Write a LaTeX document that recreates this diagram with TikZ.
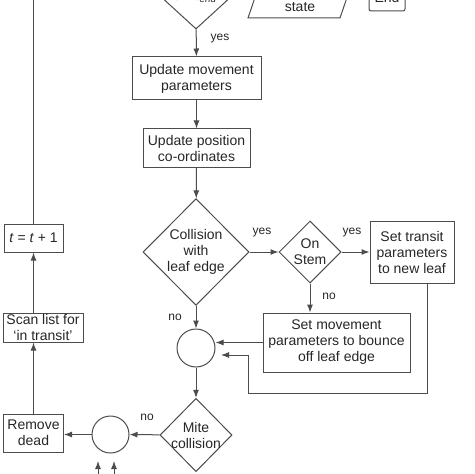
\documentclass[tikz,border=0pt]{standalone}
\usepackage{fontspec}
\setmainfont{Liberation Sans}
\usetikzlibrary{shapes.geometric, arrows.meta, positioning}

\begin{document}
\begin{tikzpicture}[x=0.75pt, y=-0.75pt,
    every node/.style={font=\fontsize{10.5}{12}\selectfont, text=black!85},
    flowline/.style={draw=black!70, line width=0.75pt},
    arr/.style={flowline, -{Latex[length=6pt,width=4.5pt]}},
    box/.style={draw=black!70, line width=0.75pt, align=center, inner sep=0pt},
    decide/.style={diamond, draw=black!70, line width=0.75pt, inner sep=0pt},
    junc/.style={circle, draw=black!70, line width=0.75pt, inner sep=0pt},
    lbl/.style={font=\fontsize{9}{10}\selectfont, inner sep=0pt}]
                % Fix the frame of the picture
                \useasboundingbox (0,0) rectangle (474,474);
                \clip (0,0) rectangle (474,474);

                % Top of the time loop (cut off by the frame)
                \node[decide, minimum width=52.5pt, minimum height=48pt,
                      label={[align=center]center:\textit{t} < \textit{t}\textsubscript{\textit{end}}}] (tcheck) at (196,-3) {};
                \draw[flowline] (248,18) -- (340,18) -- (355,-26) -- (263,-26) -- cycle; % Output box
                \node (outtxt) at (300,7) {state};
                \coordinate (outin) at (255.5,-3);
                \coordinate (outout) at (347.5,-3);
                \node[box, minimum width=27pt, minimum height=21pt, rounded corners=1.5pt] (stop) at (387,-3) {End};

                % Main column
                \node[box, minimum width=96.75pt, minimum height=32.25pt] (upmove) at (196.5,78.5) {Update movement\\parameters};
                \node[box, minimum width=80.25pt, minimum height=28.5pt] (uppos) at (196.5,148) {Update position\\co-ordinates};
                \node[decide, minimum width=79.5pt, minimum height=80pt,
                      label={[align=center]center:Collision\\with\\leaf edge}] (leafhit) at (196,252) {};
                \node[junc, minimum size=28.5pt] (merge1) at (196,348) {};
                \node[decide, minimum width=54pt, minimum height=55pt,
                      label={[align=center]center:Mite\\collision}] (mite) at (196,435) {};

                % Right branch
                \node[decide, minimum size=46.5pt,
                      label={[align=center]center:On\\Stem}] (onstem) at (310,252) {};
                \node[box, minimum width=63pt, minimum height=46.5pt] (transit) at (412,252) {Set transit\\parameters\\to new leaf};
                \node[box, minimum width=110.25pt, minimum height=44.25pt] (bounce) at (336.5,342.5) {Set movement\\parameters to bounce\\off leaf edge};

                % Left column
                \node[junc, minimum size=27.75pt] (merge2) at (110.5,434.5) {};
                \node[box, minimum width=45pt, minimum height=28.5pt] (remove) at (33.5,433) {Remove\\dead};
                \node[box, minimum width=60pt, minimum height=21.75pt] (scan) at (43,327.5) {Scan list for\\`in transit'};
                \node[box, minimum width=44.25pt, minimum height=21pt] (tstep) at (33.5,238) {\textit{t} = \textit{t} + 1};

                % Free ends
                \coordinate (loopin) at (33.5,-40);
                \coordinate (loopback) at (248,393);
                \coordinate (loopend) at (221,355);
                \coordinate (in1) at (98,461);
                \coordinate (in1b) at (98,490);
                \coordinate (in2) at (114,461);
                \coordinate (in2b) at (114,490);

                % Connectors
                \draw[arr] (tcheck.east) -- (outin);
                \draw[arr] (outout) -- (stop);
                \draw[arr] (tcheck) -- (upmove);
                \draw[arr] (upmove) -- (uppos);
                \draw[arr] (uppos) -- (leafhit);
                \draw[arr] (leafhit) -- (merge1);
                \draw[arr] (merge1) -- (mite);
                \draw[arr] (leafhit) -- (onstem);
                \draw[arr] (onstem) -- (transit);
                \draw[arr] (onstem.south) -- (onstem.south |- bounce.north);
                \draw[arr] (bounce.west) -- (bounce.west -| merge1.east);
                \draw[arr] ([xshift=11.25pt]transit.south) |- (loopback) |- (loopend);
                \draw[arr] (mite) -- (merge2);
                \draw[arr] (merge2.west) -- (merge2.west -| remove.east);
                \draw[arr] (in1b) -- (in1);
                \draw[arr] (in2b) -- (in2);
                \draw[arr] (remove.north) -- (remove.north |- scan.south);
                \draw[arr] (scan.north -| tstep) -- (tstep.south);
                \draw[flowline] (tstep.north) -- (loopin);

                % Labels
                \node[lbl] (yes1) at (220,39) {yes};
                \node[lbl] (yes2) at (262,233) {yes};
                \node[lbl] (yes3) at (352,233) {yes};
                \node[lbl] (no1) at (175,317) {no};
                \node[lbl] (no2) at (329,296) {no};
                \node[lbl] (no3) at (147,417) {no};
            \end{tikzpicture}
\end{document}
